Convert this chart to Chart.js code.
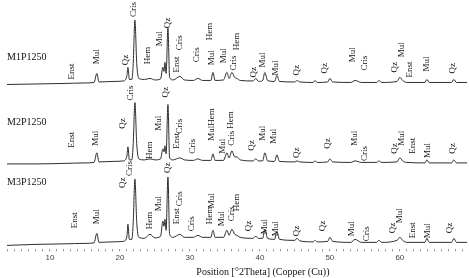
<!DOCTYPE html>
<html>
<head>
<meta charset="utf-8">
<script src="https://cdn.jsdelivr.net/npm/chart.js@4.4.1/dist/chart.umd.min.js"></script>
<style>
  html, body { margin: 0; padding: 0; background: #fff; }
</style>
</head>
<body>
<canvas id="XrdChart" width="469" height="278"></canvas>
<script>
// 2theta positions shared by the three patterns
const twoTheta = [3.86, 8, 12, 15, 16.3, 16.7, 17.0, 19, 20.5, 21.0, 21.14, 21.35, 21.7, 21.9, 22.14, 22.4, 22.7, 23.5,
    24.3, 25, 25.8, 26.14, 26.3, 26.43, 26.6, 26.86, 27.1, 27.6, 28.57, 29.2, 30.5, 31.14, 31.8, 33.0, 33.29, 33.6,
    34.8, 35.29, 35.6, 36.0, 36.4, 36.7, 37.2, 39.0, 39.43, 39.8, 40.4, 40.71, 41.1, 42.1, 42.43, 42.8, 45.0, 45.3,
    45.7, 47.6, 47.9, 48.2, 49.7, 50.0, 50.4, 53, 53.6, 54.5, 56.7, 57.0, 57.4, 59.6, 60.0, 60.4, 61, 63.6, 63.86,
    64.2, 67.4, 67.71, 68.1, 69.6];

// intensities (relative to each pattern's own baseline)
const m1 = [-1, -0.5, 0, 0.5, 1, 10, 1.5, 2, 2.5, 8, 16, 4, 4, 20, 63, 20, 5, 4,
    5, 3.5, 4.5, 16, 12, 21, 10, 55, 6, 3.5, 7, 3.5, 3, 5, 3, 3, 11, 3,
    3.5, 11, 5, 11, 6, 5, 3, 2.5, 5, 2, 3, 11, 3, 2, 8, 2, 1.5, 3,
    1.5, 1, 3, 1, 1.5, 5, 1.5, 1, 3, 1, 1, 3, 1, 2, 6, 3, 1, 1, 4,
    1, 1, 4, 1, 1];
const m2 = [0, 0, 0.5, 1, 1.5, 11, 2, 2.5, 3, 8, 17, 4, 4, 20, 61, 20, 5, 4,
    5, 4, 5, 15, 12, 18, 10, 59, 6, 4, 6, 4, 3.5, 5, 3.5, 3.5, 10, 3.5,
    3.5, 11, 6, 13, 7, 7, 4, 3, 5, 3, 3, 11, 3, 2.5, 9, 2.5, 2, 3,
    2, 1.5, 3, 1.5, 2, 5, 2, 1.5, 3, 1.5, 1.5, 3, 1.5, 2, 6, 3, 1.5, 1, 4,
    1, 1, 4, 1, 1];
const m3 = [-1, 0, 0.5, 1, 1.5, 11, 2, 2.5, 3, 8, 20, 5, 5, 22, 65, 22, 7, 6,
    10, 6.5, 8, 23, 18, 25, 14, 67, 10, 7, 10, 7, 7, 9, 7, 7, 14, 7,
    7, 14, 9, 15, 10, 9, 7, 6, 8, 6, 6, 15, 6, 5, 13, 5, 4, 6,
    3.5, 2.5, 4, 2.5, 3, 7, 3, 2, 5, 2, 2, 4, 2, 4, 7, 4, 2, 2, 6,
    2, 2, 6, 2, 2];

const samples = ["M1P1250", "M2P1250", "M3P1250"];
const offsets = [165, 85, 5];
const nameLift = [26, 41, 62];

// phase labels: [text, 2theta, height above baseline]
const m1Labels = [["Enst", 13.14, 4], ["Mul", 16.71, 19], ["Qz", 20.86, 18], ["Cris", 22.0, 66], ["Hem", 24.0, 19],
    ["Mul", 25.71, 37], ["Qz", 26.86, 55], ["Enst", 28.14, 11], ["Cris", 28.57, 33], ["Cris", 31.0, 21],
    ["Hem", 32.86, 43], ["Mul", 33.14, 18], ["Mul", 34.86, 20], ["Cris", 36.29, 13], ["Hem", 36.71, 33],
    ["Qz", 39.14, 6], ["Mul", 40.43, 16], ["Mul", 42.29, 8], ["Qz", 45.29, 8], ["Qz", 49.29, 10],
    ["Mul", 53.29, 21], ["Cris", 55.0, 13], ["Qz", 59.29, 11], ["Mul", 60.29, 26], ["Enst", 61.43, 6],
    ["Mul", 63.86, 12], ["Qz", 67.57, 10]];
const m2Labels = [["Enst", 13.14, 16], ["Mul", 16.57, 18], ["Qz", 20.43, 35], ["Cris", 21.57, 63], ["Hem", 24.29, 5],
    ["Mul", 25.57, 33], ["Qz", 26.57, 66], ["Enst", 28.14, 15], ["Cris", 28.57, 30], ["Cris", 30.43, 10],
    ["MulHem", 33.14, 23], ["Mul", 34.71, 10], ["Cris", 36.0, 18], ["Hem", 35.86, 35], ["Qz", 38.86, 13],
    ["Mul", 40.43, 23], ["Mul", 42.0, 20], ["Qz", 45.29, 6], ["Qz", 49.71, 15], ["Mul", 53.57, 18],
    ["Cris", 55.0, 3], ["Qz", 59.29, 10], ["Mul", 60.29, 18], ["Enst", 61.86, 10], ["Mul", 64.0, 6],
    ["Qz", 67.57, 10]];
const m3Labels = [["Enst", 13.57, 16], ["Mul", 16.71, 20], ["Qz", 20.43, 56], ["Cris", 21.43, 68], ["Hem", 24.29, 15],
    ["Mul", 25.57, 33], ["Qz", 26.86, 71], ["Enst", 28.14, 20], ["Cris", 28.57, 38], ["Cris", 30.29, 13],
    ["Hem", 32.86, 20], ["Mul", 33.14, 36], ["Mul", 34.57, 18], ["Cris", 36.0, 23], ["Hem", 36.71, 33],
    ["Qz", 38.43, 13], ["Mul", 40.71, 10], ["Mul", 42.29, 8], ["Qz", 45.29, 8], ["Qz", 49.0, 13],
    ["Mul", 53.14, 8], ["Cris", 55.29, 3], ["Qz", 59.0, 11], ["Mul", 60.0, 21], ["Enst", 61.86, 6],
    ["Mul", 64.0, 6], ["Qz", 67.14, 11]];

const xTitle = "Position [°2Theta] (Copper (Cu))";

const series = [m1, m2, m3];
const phaseLabels = [m1Labels, m2Labels, m3Labels];

let datasets = series.map((vals, k) => ({
    label: samples[k],
    data: twoTheta.map((t, i) => ({ x: t, y: offsets[k] + vals[i] })),
    borderColor: "#2e2e2e",
    borderWidth: 1,
    pointRadius: 0,
    cubicInterpolationMode: "monotone",
    fill: false
}));

// draws sample names, rotated phase labels and the axis title
const annotate = {
    id: "annotate",
    afterDatasetsDraw(chart) {
        let ctx = chart.ctx;
        let xs = chart.scales.x, ys = chart.scales.y;
        ctx.save();
        ctx.fillStyle = "#111";
        ctx.font = '10px "Liberation Serif"';
        ctx.textBaseline = "middle";
        ctx.textAlign = "left";
        samples.forEach((name, k) => {
            ctx.fillText(name, chart.chartArea.left, ys.getPixelForValue(offsets[k] + nameLift[k]));
        });

        ctx.font = '9px "Liberation Serif"';
        phaseLabels.forEach((list, k) => {
            list.forEach(([txt, t, h]) => {
                ctx.save();
                ctx.translate(xs.getPixelForValue(t), ys.getPixelForValue(offsets[k] + h));
                ctx.rotate(-Math.PI / 2);
                ctx.fillText(txt, 0, 0);
                ctx.restore();
            });
        });

        ctx.font = '10px "Liberation Serif"';
        ctx.textAlign = "center";
        ctx.fillText(xTitle, xs.getPixelForValue(40.43), chart.height - 6);
        ctx.restore();
    }
};

let xrdChart = new Chart(document.getElementById("XrdChart").getContext("2d"), {
    type: "line",
    data: { datasets: datasets },
    plugins: [annotate],
    options: {
        responsive: false,
        animation: false,
        layout: { padding: { left: 7, right: 2, top: 0, bottom: 13 } },
        plugins: {
            legend: { display: false },
            tooltip: { enabled: false }
        },
        scales: {
            x: {
                type: "linear",
                min: 3.86,
                max: 69.6,
                border: { display: false },
                grid: { drawOnChartArea: false, tickLength: 2, color: "#9a9a9a" },
                ticks: {
                    stepSize: 1,
                    includeBounds: false,
                    autoSkip: false,
                    maxRotation: 0,
                    padding: 2,
                    color: "#444",
                    font: { family: "Liberation Sans", size: 8 },
                    callback: v => (v % 10 === 0 ? v : "")
                }
            },
            y: { display: false, min: 0, max: 248 }
        }
    }
});
</script>
</body>
</html>
